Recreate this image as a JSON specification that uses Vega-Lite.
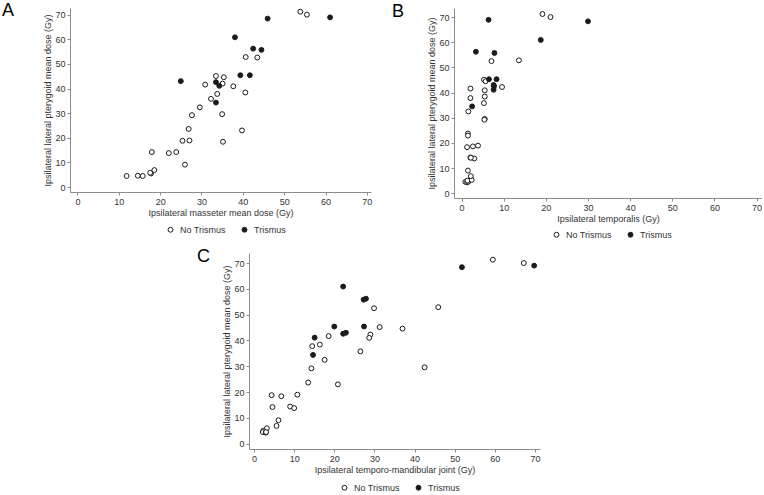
{
  "$schema": "https://vega.github.io/schema/vega-lite/v6.json",
  "padding": {"left": 2, "top": 2, "right": 0, "bottom": 0},
  "datasets": {
    "masseter": [
      {"dose": 11.9, "pterygoid": 4.5, "status": "No Trismus"},
      {"dose": 14.6, "pterygoid": 4.6, "status": "No Trismus"},
      {"dose": 15.8, "pterygoid": 4.5, "status": "No Trismus"},
      {"dose": 17.8, "pterygoid": 5.5, "status": "No Trismus"},
      {"dose": 17.6, "pterygoid": 5.8, "status": "No Trismus"},
      {"dose": 18.6, "pterygoid": 6.9, "status": "No Trismus"},
      {"dose": 18.0, "pterygoid": 14.2, "status": "No Trismus"},
      {"dose": 22.1, "pterygoid": 13.8, "status": "No Trismus"},
      {"dose": 23.9, "pterygoid": 14.2, "status": "No Trismus"},
      {"dose": 26.0, "pterygoid": 9.1, "status": "No Trismus"},
      {"dose": 25.4, "pterygoid": 18.8, "status": "No Trismus"},
      {"dose": 27.1, "pterygoid": 18.9, "status": "No Trismus"},
      {"dose": 26.9, "pterygoid": 23.6, "status": "No Trismus"},
      {"dose": 27.7, "pterygoid": 29.2, "status": "No Trismus"},
      {"dose": 29.6, "pterygoid": 32.4, "status": "No Trismus"},
      {"dose": 30.9, "pterygoid": 41.6, "status": "No Trismus"},
      {"dose": 32.3, "pterygoid": 35.8, "status": "No Trismus"},
      {"dose": 33.5, "pterygoid": 45.1, "status": "No Trismus"},
      {"dose": 33.8, "pterygoid": 37.8, "status": "No Trismus"},
      {"dose": 35.1, "pterygoid": 42.0, "status": "No Trismus"},
      {"dose": 35.4, "pterygoid": 44.6, "status": "No Trismus"},
      {"dose": 35.0, "pterygoid": 29.6, "status": "No Trismus"},
      {"dose": 35.2, "pterygoid": 18.4, "status": "No Trismus"},
      {"dose": 37.7, "pterygoid": 40.9, "status": "No Trismus"},
      {"dose": 39.8, "pterygoid": 23.0, "status": "No Trismus"},
      {"dose": 40.6, "pterygoid": 38.4, "status": "No Trismus"},
      {"dose": 40.7, "pterygoid": 52.8, "status": "No Trismus"},
      {"dose": 43.5, "pterygoid": 52.6, "status": "No Trismus"},
      {"dose": 53.9, "pterygoid": 71.2, "status": "No Trismus"},
      {"dose": 55.5, "pterygoid": 70.0, "status": "No Trismus"},
      {"dose": 25.0, "pterygoid": 43.0, "status": "Trismus"},
      {"dose": 33.5, "pterygoid": 42.6, "status": "Trismus"},
      {"dose": 34.3, "pterygoid": 41.1, "status": "Trismus"},
      {"dose": 33.5, "pterygoid": 34.3, "status": "Trismus"},
      {"dose": 38.1, "pterygoid": 60.8, "status": "Trismus"},
      {"dose": 39.4, "pterygoid": 45.4, "status": "Trismus"},
      {"dose": 41.7, "pterygoid": 45.4, "status": "Trismus"},
      {"dose": 42.5, "pterygoid": 56.2, "status": "Trismus"},
      {"dose": 44.5, "pterygoid": 55.7, "status": "Trismus"},
      {"dose": 46.0, "pterygoid": 68.4, "status": "Trismus"},
      {"dose": 61.1, "pterygoid": 68.9, "status": "Trismus"}
    ],
    "temporalis": [
      {"dose": 19.2, "pterygoid": 71.2, "status": "No Trismus"},
      {"dose": 21.1, "pterygoid": 70.0, "status": "No Trismus"},
      {"dose": 13.6, "pterygoid": 52.8, "status": "No Trismus"},
      {"dose": 7.1, "pterygoid": 52.5, "status": "No Trismus"},
      {"dose": 5.3, "pterygoid": 45.1, "status": "No Trismus"},
      {"dose": 5.7, "pterygoid": 44.5, "status": "No Trismus"},
      {"dose": 9.6, "pterygoid": 42.2, "status": "No Trismus"},
      {"dose": 2.1, "pterygoid": 41.6, "status": "No Trismus"},
      {"dose": 5.5, "pterygoid": 40.9, "status": "No Trismus"},
      {"dose": 2.1, "pterygoid": 37.8, "status": "No Trismus"},
      {"dose": 5.5, "pterygoid": 38.4, "status": "No Trismus"},
      {"dose": 5.3, "pterygoid": 35.8, "status": "No Trismus"},
      {"dose": 1.6, "pterygoid": 32.5, "status": "No Trismus"},
      {"dose": 5.5, "pterygoid": 29.5, "status": "No Trismus"},
      {"dose": 5.4, "pterygoid": 29.2, "status": "No Trismus"},
      {"dose": 1.5, "pterygoid": 23.7, "status": "No Trismus"},
      {"dose": 1.5, "pterygoid": 22.9, "status": "No Trismus"},
      {"dose": 1.3, "pterygoid": 18.3, "status": "No Trismus"},
      {"dose": 2.7, "pterygoid": 18.6, "status": "No Trismus"},
      {"dose": 3.9, "pterygoid": 18.9, "status": "No Trismus"},
      {"dose": 2.1, "pterygoid": 14.2, "status": "No Trismus"},
      {"dose": 3.0, "pterygoid": 13.8, "status": "No Trismus"},
      {"dose": 2.2, "pterygoid": 14.1, "status": "No Trismus"},
      {"dose": 1.5, "pterygoid": 9.0, "status": "No Trismus"},
      {"dose": 0.9, "pterygoid": 4.5, "status": "No Trismus"},
      {"dose": 1.3, "pterygoid": 4.3, "status": "No Trismus"},
      {"dose": 1.6, "pterygoid": 4.6, "status": "No Trismus"},
      {"dose": 1.4, "pterygoid": 5.0, "status": "No Trismus"},
      {"dose": 2.4, "pterygoid": 5.3, "status": "No Trismus"},
      {"dose": 2.2, "pterygoid": 6.8, "status": "No Trismus"},
      {"dose": 6.4, "pterygoid": 68.9, "status": "Trismus"},
      {"dose": 30.0, "pterygoid": 68.3, "status": "Trismus"},
      {"dose": 18.8, "pterygoid": 60.9, "status": "Trismus"},
      {"dose": 3.4, "pterygoid": 56.2, "status": "Trismus"},
      {"dose": 7.8, "pterygoid": 55.7, "status": "Trismus"},
      {"dose": 6.5, "pterygoid": 45.3, "status": "Trismus"},
      {"dose": 8.3, "pterygoid": 45.3, "status": "Trismus"},
      {"dose": 7.6, "pterygoid": 43.0, "status": "Trismus"},
      {"dose": 7.7, "pterygoid": 42.5, "status": "Trismus"},
      {"dose": 7.6, "pterygoid": 41.1, "status": "Trismus"},
      {"dose": 2.5, "pterygoid": 34.5, "status": "Trismus"}
    ],
    "tmj": [
      {"dose": 59.5, "pterygoid": 71.3, "status": "No Trismus"},
      {"dose": 67.2, "pterygoid": 70.0, "status": "No Trismus"},
      {"dose": 45.9, "pterygoid": 52.9, "status": "No Trismus"},
      {"dose": 29.9, "pterygoid": 52.5, "status": "No Trismus"},
      {"dose": 31.3, "pterygoid": 45.2, "status": "No Trismus"},
      {"dose": 37.0, "pterygoid": 44.6, "status": "No Trismus"},
      {"dose": 29.0, "pterygoid": 42.3, "status": "No Trismus"},
      {"dose": 28.7, "pterygoid": 41.0, "status": "No Trismus"},
      {"dose": 26.5, "pterygoid": 35.8, "status": "No Trismus"},
      {"dose": 42.5, "pterygoid": 29.6, "status": "No Trismus"},
      {"dose": 18.6, "pterygoid": 41.7, "status": "No Trismus"},
      {"dose": 16.4, "pterygoid": 38.4, "status": "No Trismus"},
      {"dose": 14.5, "pterygoid": 37.8, "status": "No Trismus"},
      {"dose": 17.6, "pterygoid": 32.5, "status": "No Trismus"},
      {"dose": 14.3, "pterygoid": 29.2, "status": "No Trismus"},
      {"dose": 13.5, "pterygoid": 23.7, "status": "No Trismus"},
      {"dose": 20.9, "pterygoid": 23.0, "status": "No Trismus"},
      {"dose": 10.8, "pterygoid": 19.0, "status": "No Trismus"},
      {"dose": 6.8, "pterygoid": 18.4, "status": "No Trismus"},
      {"dose": 4.4, "pterygoid": 18.8, "status": "No Trismus"},
      {"dose": 4.6, "pterygoid": 14.2, "status": "No Trismus"},
      {"dose": 9.0, "pterygoid": 14.4, "status": "No Trismus"},
      {"dose": 10.0, "pterygoid": 13.8, "status": "No Trismus"},
      {"dose": 6.1, "pterygoid": 9.1, "status": "No Trismus"},
      {"dose": 5.6, "pterygoid": 6.9, "status": "No Trismus"},
      {"dose": 3.2, "pterygoid": 6.0, "status": "No Trismus"},
      {"dose": 2.3, "pterygoid": 5.0, "status": "No Trismus"},
      {"dose": 2.2, "pterygoid": 4.5, "status": "No Trismus"},
      {"dose": 2.9, "pterygoid": 4.3, "status": "No Trismus"},
      {"dose": 3.0, "pterygoid": 4.5, "status": "No Trismus"},
      {"dose": 51.8, "pterygoid": 68.4, "status": "Trismus"},
      {"dose": 69.8, "pterygoid": 69.0, "status": "Trismus"},
      {"dose": 22.2, "pterygoid": 60.9, "status": "Trismus"},
      {"dose": 27.3, "pterygoid": 55.8, "status": "Trismus"},
      {"dose": 27.9, "pterygoid": 56.2, "status": "Trismus"},
      {"dose": 20.0, "pterygoid": 45.4, "status": "Trismus"},
      {"dose": 27.4, "pterygoid": 45.4, "status": "Trismus"},
      {"dose": 22.2, "pterygoid": 42.6, "status": "Trismus"},
      {"dose": 22.9, "pterygoid": 43.0, "status": "Trismus"},
      {"dose": 15.1, "pterygoid": 41.1, "status": "Trismus"},
      {"dose": 14.7, "pterygoid": 34.4, "status": "Trismus"}
    ]
  },
  "vconcat": [
    {
      "hconcat": [
        {
          "width": 301,
          "height": 184,
          "data": {"name": "masseter"},
          "title": {"text": "A", "dx": -68},
          "mark": {"type": "point", "shape": "circle", "filled": true, "size": 24, "stroke": "#1a1a1a", "strokeWidth": 1, "opacity": 1},
          "encoding": {
            "x": {"field": "dose", "type": "quantitative", "scale": {"domain": [-1.8, 71], "nice": false, "zero": false},
                  "axis": {"values": [0, 10, 20, 30, 40, 50, 60, 70], "title": "Ipsilateral masseter mean dose (Gy)"}},
            "y": {"field": "pterygoid", "type": "quantitative", "scale": {"domain": [-2, 72.7], "nice": false, "zero": false},
                  "axis": {"values": [0, 10, 20, 30, 40, 50, 60, 70], "title": "Ipsilateral lateral pterygoid mean dose (Gy)"}},
            "fill": {"field": "status", "type": "nominal", "scale": {"domain": ["No Trismus", "Trismus"], "range": ["#ffffff", "#1a1a1a"]},
                     "legend": {"legendX": 96, "legendY": 217}}
          }
        },
        {
          "width": 308,
          "height": 190,
          "data": {"name": "temporalis"},
          "title": {"text": "B", "dx": -62},
          "mark": {"type": "point", "shape": "circle", "filled": true, "size": 24, "stroke": "#1a1a1a", "strokeWidth": 1, "opacity": 1},
          "encoding": {
            "x": {"field": "dose", "type": "quantitative", "scale": {"domain": [-1.8, 71.3], "nice": false, "zero": false},
                  "axis": {"values": [0, 10, 20, 30, 40, 50, 60, 70], "title": "Ipsilateral temporalis (Gy)"}},
            "y": {"field": "pterygoid", "type": "quantitative", "scale": {"domain": [-1.9, 73.6], "nice": false, "zero": false},
                  "axis": {"values": [0, 10, 20, 30, 40, 50, 60, 70], "title": "Ipsilateral lateral pterygoid mean dose (Gy)"}},
            "fill": {"field": "status", "type": "nominal", "scale": {"domain": ["No Trismus", "Trismus"], "range": ["#ffffff", "#1a1a1a"]},
                     "legend": {"legendX": 98, "legendY": 222}}
          }
        }
      ],
      "spacing": 20,
      "resolve": {"scale": {"fill": "independent"}, "legend": {"fill": "independent"}}
    },
    {
      "hconcat": [
        {
          "width": 127,
          "height": 10,
          "data": {"values": []},
          "mark": "point"
        },
        {
          "width": 291,
          "height": 196,
          "data": {"name": "tmj"},
          "title": {"text": "C", "dx": -52},
          "mark": {"type": "point", "shape": "circle", "filled": true, "size": 24, "stroke": "#1a1a1a", "strokeWidth": 1, "opacity": 1},
          "encoding": {
            "x": {"field": "dose", "type": "quantitative", "scale": {"domain": [-1.25, 71.25], "nice": false, "zero": false},
                  "axis": {"values": [0, 10, 20, 30, 40, 50, 60, 70], "title": "Ipsilateral temporo-mandibular joint (Gy)"}},
            "y": {"field": "pterygoid", "type": "quantitative", "scale": {"domain": [-2.05, 73.9], "nice": false, "zero": false},
                  "axis": {"values": [0, 10, 20, 30, 40, 50, 60, 70], "title": "Ipsilateral lateral pterygoid mean dose (Gy)"}},
            "fill": {"field": "status", "type": "nominal", "scale": {"domain": ["No Trismus", "Trismus"], "range": ["#ffffff", "#1a1a1a"]},
                     "legend": {"legendX": 91, "legendY": 230}}
          }
        }
      ],
      "spacing": 0,
      "resolve": {"scale": {"fill": "independent"}, "legend": {"fill": "independent"}}
    }
  ],
  "spacing": 8,
  "resolve": {"scale": {"fill": "independent"}, "legend": {"fill": "independent"}},
  "config": {
    "font": "Liberation Sans",
    "view": {"stroke": null},
    "title": {"anchor": "start", "frame": "group", "orient": "top", "offset": -13, "baseline": "alphabetic", "fontSize": 18, "fontWeight": "normal", "color": "#000000"},
    "axis": {
      "grid": false,
      "domainColor": "#8c8c8c",
      "tickColor": "#8c8c8c",
      "tickSize": 3,
      "labelFontSize": 9,
      "labelColor": "#333333",
      "labelPadding": 2,
      "titleFontSize": 9,
      "titleFontWeight": "normal",
      "titleColor": "#333333",
      "titlePadding": 2
    },
    "legend": {
      "orient": "none",
      "direction": "horizontal",
      "title": null,
      "padding": 0,
      "symbolType": "circle",
      "symbolSize": 24,
      "symbolStrokeColor": "#1a1a1a",
      "symbolStrokeWidth": 1,
      "labelFontSize": 9,
      "labelColor": "#333333",
      "labelOffset": 5,
      "columnPadding": 14
    }
  }
}
